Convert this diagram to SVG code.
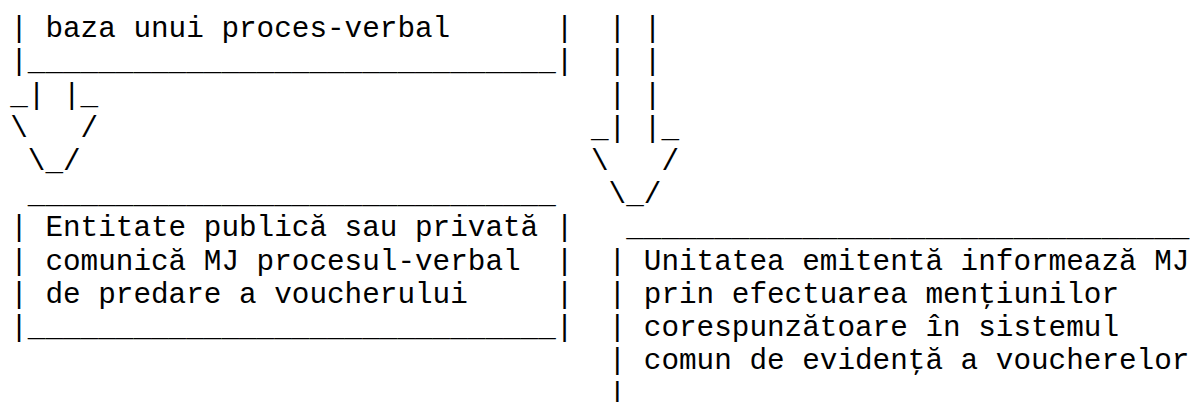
<svg xmlns="http://www.w3.org/2000/svg" width="1190" height="402" viewBox="0 0 1190 402">
<style>
text{font-family:"Liberation Mono","Courier New",monospace;font-size:29.33px;fill:#000;white-space:pre}
</style>
<rect x="0" y="0" width="1190" height="402" fill="#fff"/>
<g id="node-proces-verbal" xml:space="preserve">
<text x="10.2" y="37">| baza unui proces-verbal</text>
<text x="555.8" y="37">|</text>
<text x="10.2" y="70.2">|______________________________|</text>
</g>
<g id="node-entitate" xml:space="preserve">
<text x="27.8" y="203.2">______________________________</text>
<text x="10.2" y="236.4">| Entitate publică sau privată |</text>
<text x="10.2" y="269.6">| comunică MJ procesul-verbal</text>
<text x="555.8" y="269.6">|</text>
<text x="10.2" y="302.8">| de predare a voucherului</text>
<text x="555.8" y="302.8">|</text>
<text x="10.2" y="336.1">|______________________________|</text>
</g>
<g id="node-unitate" xml:space="preserve">
<text x="626.2" y="236.4">________________________________</text>
<text x="608.6" y="269.6">| Unitatea emitentă informează MJ</text>
<text x="608.6" y="302.8">| prin efectuarea menţiunilor</text>
<text x="608.6" y="336.1">| corespunzătoare în sistemul</text>
<text x="608.6" y="369.3">| comun de evidenţă a voucherelor</text>
<text x="608.6" y="402.5">|</text>
</g>
<g id="connectors" xml:space="preserve">
<g id="arrow-left">
<text x="10.2" y="103.5">_| |_</text>
<text x="10.2" y="136.7">\   /</text>
<text x="27.8" y="169.9">\_/</text>
</g>
<g id="arrow-right">
<text x="608.6" y="37">| |</text>
<text x="608.6" y="70.2">| |</text>
<text x="608.6" y="103.5">| |</text>
<text x="591" y="136.7">_| |_</text>
<text x="591" y="169.9">\   /</text>
<text x="608.6" y="203.2">\_/</text>
</g>
</g>
</svg>
